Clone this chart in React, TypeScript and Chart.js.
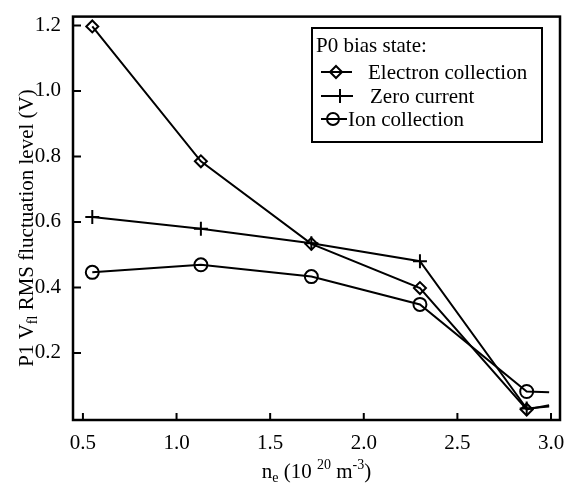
import { useEffect, useRef } from 'react';
import { Chart, registerables } from 'chart.js';
Chart.register(...registerables);

// Data
const ne = [0.55, 1.13, 1.72, 2.3, 2.87, 2.99];
const electron = [1.197, 0.785, 0.533, 0.398, 0.027, 0.04];
const zeroCurrent = [0.615, 0.579, 0.535, 0.48, 0.03, 0.036];
const ionCollection = [0.446, 0.469, 0.433, 0.348, 0.082, 0.08];
const xTicks = [0.5, 1.0, 1.5, 2.0, 2.5, 3.0];
const yTicks = [0.2, 0.4, 0.6, 0.8, 1.0, 1.2];
const seriesLabels = ['Electron collection', 'Zero current', 'Ion collection'];
const legendTitle = 'P0 bias state:';

const FONT = '"Liberation Serif", "Times New Roman", serif';

function drawMarker(ctx: CanvasRenderingContext2D, kind: string, x: number, y: number, r: number) {
  ctx.beginPath();
  if (kind === 'diamond') {
    ctx.moveTo(x, y - r);
    ctx.lineTo(x + r, y);
    ctx.lineTo(x, y + r);
    ctx.lineTo(x - r, y);
    ctx.closePath();
  } else if (kind === 'cross') {
    ctx.moveTo(x - r, y);
    ctx.lineTo(x + r, y);
    ctx.moveTo(x, y - r);
    ctx.lineTo(x, y + r);
  } else {
    ctx.arc(x, y, r, 0, Math.PI * 2);
  }
  ctx.stroke();
}

const framePlugin = {
  id: 'frameTicks',
  afterDraw(chart: any) {
    const { ctx, chartArea } = chart;
    const { left, right, top, bottom } = chartArea;
    ctx.save();
    ctx.strokeStyle = '#000';
    ctx.lineWidth = 2.5;
    ctx.strokeRect(left, top, right - left, bottom - top);
    ctx.lineWidth = 2;
    const xs = chart.scales.x;
    const ys = chart.scales.y;
    ctx.beginPath();
    xTicks.forEach((v) => {
      const px = xs.getPixelForValue(v);
      ctx.moveTo(px, bottom);
      ctx.lineTo(px, bottom - 7);
    });
    yTicks.forEach((v) => {
      const py = ys.getPixelForValue(v);
      ctx.moveTo(left, py);
      ctx.lineTo(left + 8, py);
    });
    ctx.stroke();

    // axis titles with sub/superscripts
    const big = `21px ${FONT}`;
    const small = `14px ${FONT}`;
    const drawSegs = (segs: { t: string; f: string; dy: number }[], cx: number, baseline: number) => {
      let total = 0;
      segs.forEach((s) => {
        ctx.font = s.f;
        total += ctx.measureText(s.t).width;
      });
      let x = cx - total / 2;
      ctx.textAlign = 'left';
      ctx.textBaseline = 'alphabetic';
      ctx.fillStyle = '#000';
      segs.forEach((s) => {
        ctx.font = s.f;
        ctx.fillText(s.t, x, baseline + s.dy);
        x += ctx.measureText(s.t).width;
      });
    };
    drawSegs(
      [
        { t: 'n', f: big, dy: 0 },
        { t: 'e', f: small, dy: 4 },
        { t: ' (10 ', f: big, dy: 0 },
        { t: '20', f: small, dy: -9 },
        { t: ' m', f: big, dy: 0 },
        { t: '-3', f: small, dy: -9 },
        { t: ')', f: big, dy: 0 },
      ],
      (left + right) / 2,
      478
    );
    ctx.save();
    ctx.translate(33, 228);
    ctx.rotate(-Math.PI / 2);
    drawSegs(
      [
        { t: 'P1 V', f: big, dy: 0 },
        { t: 'fl', f: small, dy: 4 },
        { t: ' RMS fluctuation level (V)', f: big, dy: 0 },
      ],
      0,
      0
    );
    ctx.restore();
    ctx.restore();
  },
};

const legendPlugin = {
  id: 'boxLegend',
  afterDraw(chart: any) {
    const ctx: CanvasRenderingContext2D = chart.ctx;
    ctx.save();
    ctx.fillStyle = '#fff';
    ctx.fillRect(312, 28, 230, 114);
    ctx.strokeStyle = '#000';
    ctx.lineWidth = 2;
    ctx.strokeRect(312, 28, 230, 114);
    ctx.fillStyle = '#000';
    ctx.font = `21px ${FONT}`;
    ctx.textBaseline = 'middle';
    ctx.textAlign = 'left';
    ctx.fillText(legendTitle, 316, 46);
    const rows = [
      { y: 72, x0: 321, x1: 352, mx: 336, tx: 368, kind: 'diamond', r: 6 },
      { y: 96, x0: 321, x1: 353, mx: 340, tx: 370, kind: 'cross', r: 7 },
      { y: 119, x0: 321, x1: 347, mx: 333, tx: 348, kind: 'circle', r: 6 },
    ];
    rows.forEach((row, i) => {
      ctx.lineWidth = 2;
      ctx.beginPath();
      ctx.moveTo(row.x0, row.y);
      ctx.lineTo(row.x1, row.y);
      ctx.stroke();
      drawMarker(ctx, row.kind, row.mx, row.y, row.r);
      ctx.fillText(seriesLabels[i], row.tx, row.y + 1);
    });
    ctx.restore();
  },
};

export default function App() {
  const ref = useRef<HTMLCanvasElement | null>(null);
  useEffect(() => {
    document.body.style.margin = '0';
    if (!ref.current) return;
    const radii = (r: number) => ne.map((_, i) => (i === ne.length - 1 ? 0 : r));
    const mk = (vals: number[]) => ne.map((x, i) => ({ x, y: vals[i] }));
    const chart = new Chart(ref.current, {
      type: 'line',
      data: {
        datasets: [
          {
            label: seriesLabels[0],
            data: mk(electron),
            borderColor: '#000',
            borderWidth: 2,
            pointStyle: 'rectRot',
            pointRadius: radii(6),
            pointBackgroundColor: 'rgba(0,0,0,0)',
            pointBorderColor: '#000',
            pointBorderWidth: 2,
            tension: 0,
          },
          {
            label: seriesLabels[1],
            data: mk(zeroCurrent),
            borderColor: '#000',
            borderWidth: 2,
            pointStyle: 'cross',
            pointRadius: radii(7),
            pointBorderColor: '#000',
            pointBorderWidth: 2,
            tension: 0,
          },
          {
            label: seriesLabels[2],
            data: mk(ionCollection),
            borderColor: '#000',
            borderWidth: 2,
            pointStyle: 'circle',
            pointRadius: radii(6.5),
            pointBackgroundColor: 'rgba(0,0,0,0)',
            pointBorderColor: '#000',
            pointBorderWidth: 2,
            tension: 0,
          },
        ],
      },
      options: {
        animation: false,
        responsive: false,
        maintainAspectRatio: false,
        layout: { padding: { top: 12, right: 11, left: 0, bottom: 0 } },
        plugins: { legend: { display: false }, tooltip: { enabled: false } },
        scales: {
          x: {
            type: 'linear',
            min: 0.447,
            max: 3.048,
            grid: { display: false },
            border: { display: false },
            afterBuildTicks: (s: any) => {
              s.ticks = xTicks.map((v) => ({ value: v }));
            },
            afterFit: (s: any) => {
              s.height = 66;
            },
            ticks: {
              padding: 3,
              color: '#000',
              font: { family: FONT, size: 21 },
              maxRotation: 0,
              callback: (v: any) => Number(v).toFixed(1),
            },
          },
          y: {
            type: 'linear',
            min: -0.005,
            max: 1.227,
            grid: { display: false },
            border: { display: false },
            afterBuildTicks: (s: any) => {
              s.ticks = yTicks.map((v) => ({ value: v }));
            },
            afterFit: (s: any) => {
              s.width = 73;
            },
            ticks: {
              padding: 4,
              color: '#000',
              font: { family: FONT, size: 21 },
              callback: (v: any) => Number(v).toFixed(1),
            },
          },
        },
      },
      plugins: [framePlugin, legendPlugin],
    });
    return () => chart.destroy();
  }, []);
  return (
    <div style={{ width: 571, height: 486, background: '#fff' }}>
      <canvas ref={ref} width={571} height={486} style={{ display: 'block' }} />
    </div>
  );
}
